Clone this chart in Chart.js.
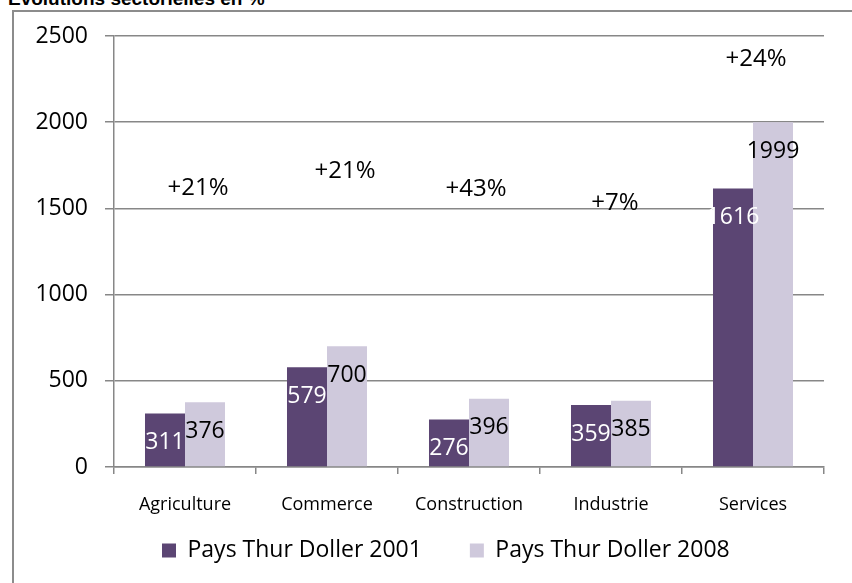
<!DOCTYPE html>
<html lang="fr">
<head>
<meta charset="utf-8">
<title>Evolutions sectorielles en %</title>
<script src="https://cdn.jsdelivr.net/npm/chart.js@4.4.0/dist/chart.umd.min.js"></script>
<style>
  html, body { margin: 0; padding: 0; background: #fff; overflow: hidden; }
  body { width: 852px; height: 583px; position: relative; }
  #titre {
    position: absolute; left: 8px; top: -11px;
    font: bold 19px/20px "Liberation Sans Narrow", "Liberation Sans", sans-serif;
    white-space: nowrap; color: #000;
  }
  #cadre {
    position: absolute; left: 12px; top: 10px; width: 900px; height: 600px;
    border-left: 2px solid #8c8c8c; border-top: 2px solid #8c8c8c;
  }
  #graphique { position: absolute; left: 0; top: 0; }
</style>
</head>
<body>
<div id="titre">Evolutions sectorielles en %</div>
<div id="cadre"></div>
<canvas id="graphique" width="852" height="600"></canvas>
<script>
// Données
var secteurs = ['Agriculture', 'Commerce', 'Construction', 'Industrie', 'Services'];
var emplois2001 = [311, 579, 276, 359, 1616];
var emplois2008 = [376, 700, 396, 385, 1999];
var evolutions = ['+21%', '+21%', '+43%', '+7%', '+24%'];
var axeMax = 2500;
var axePas = 500;

// Hauteur des étiquettes d'évolution (en unités de l'axe) et léger décalage horizontal
var niveauxEvolution = [1618, 1717, 1612, 1531, 2366];
var decalagesEvolution = [13, 18, 7, 4, 3];

var violetFonce = '#5b4573';
var violetClair = '#cfc9dc';
var gris = '#878787';

Chart.defaults.font.family = "'Open Sans', sans-serif";
Chart.defaults.color = '#000';

// Étiquettes de valeurs dans les barres
var etiquettesValeurs = {
  id: 'etiquettesValeurs',
  afterDatasetsDraw: function (chart) {
    var ctx = chart.ctx;
    ctx.save();
    ctx.font = "23px 'Open Sans', sans-serif";
    ctx.textAlign = 'center';
    ctx.textBaseline = 'middle';
    chart.data.datasets.forEach(function (ds, i) {
      var meta = chart.getDatasetMeta(i);
      ctx.fillStyle = i === 0 ? '#fff' : '#000';
      meta.data.forEach(function (bar, j) {
        ctx.fillText(String(ds.data[j]), bar.x, bar.y + 29);
      });
    });
    ctx.restore();
  }
};

// Textes d'évolution au-dessus des groupes
var etiquettesEvolution = {
  id: 'etiquettesEvolution',
  afterDatasetsDraw: function (chart) {
    var ctx = chart.ctx,
        x = chart.scales.x,
        y = chart.scales.y;
    ctx.save();
    ctx.font = "24px 'Open Sans', sans-serif";
    ctx.fillStyle = '#000';
    ctx.textAlign = 'center';
    ctx.textBaseline = 'middle';
    evolutions.forEach(function (txt, i) {
      ctx.fillText(txt, x.getPixelForValue(i) + decalagesEvolution[i], y.getPixelForValue(niveauxEvolution[i]));
    });
    ctx.restore();
  }
};

// La légende garde un grand écart entre ses éléments, on la remonte un peu
var remonteLegende = {
  id: 'remonteLegende',
  afterLayout: function (chart) {
    chart.legend.top -= 26;
    chart.legend.bottom -= 26;
  }
};

new Chart(document.getElementById('graphique').getContext('2d'), {
  type: 'bar',
  data: {
    labels: secteurs,
    datasets: [
      { label: 'Pays Thur Doller 2001', data: emplois2001, backgroundColor: violetFonce },
      { label: 'Pays Thur Doller 2008', data: emplois2008, backgroundColor: violetClair }
    ]
  },
  options: {
    responsive: false,
    animation: false,
    layout: { padding: { left: 0, right: 28, top: 36, bottom: 2 } },
    datasets: { bar: { categoryPercentage: 0.5634, barPercentage: 1 } },
    scales: {
      x: {
        afterFit: function (scale) { scale.height = 50; },
        grid: { offset: true, drawOnChartArea: false, tickLength: 7, color: gris, lineWidth: 1.5 },
        border: { color: gris, width: 1.5 },
        ticks: { font: { size: 18 }, padding: 20, color: '#000' }
      },
      y: {
        min: 0,
        max: axeMax,
        afterFit: function (scale) { scale.width = 114; },
        grid: { tickLength: 9, color: gris, lineWidth: 1.5 },
        border: { color: gris, width: 1.5 },
        ticks: {
          stepSize: axePas,
          font: { size: 23 },
          padding: 17,
          color: '#000',
          callback: function (v) { return String(v); }
        }
      }
    },
    plugins: {
      legend: {
        position: 'bottom',
        fullSize: false,
        align: 'start',
        labels: { boxWidth: 14, boxHeight: 14, padding: 48, font: { size: 23 }, color: '#000' }
      },
      tooltip: { enabled: false }
    }
  },
  plugins: [etiquettesValeurs, etiquettesEvolution, remonteLegende]
});
</script>
</body>
</html>
